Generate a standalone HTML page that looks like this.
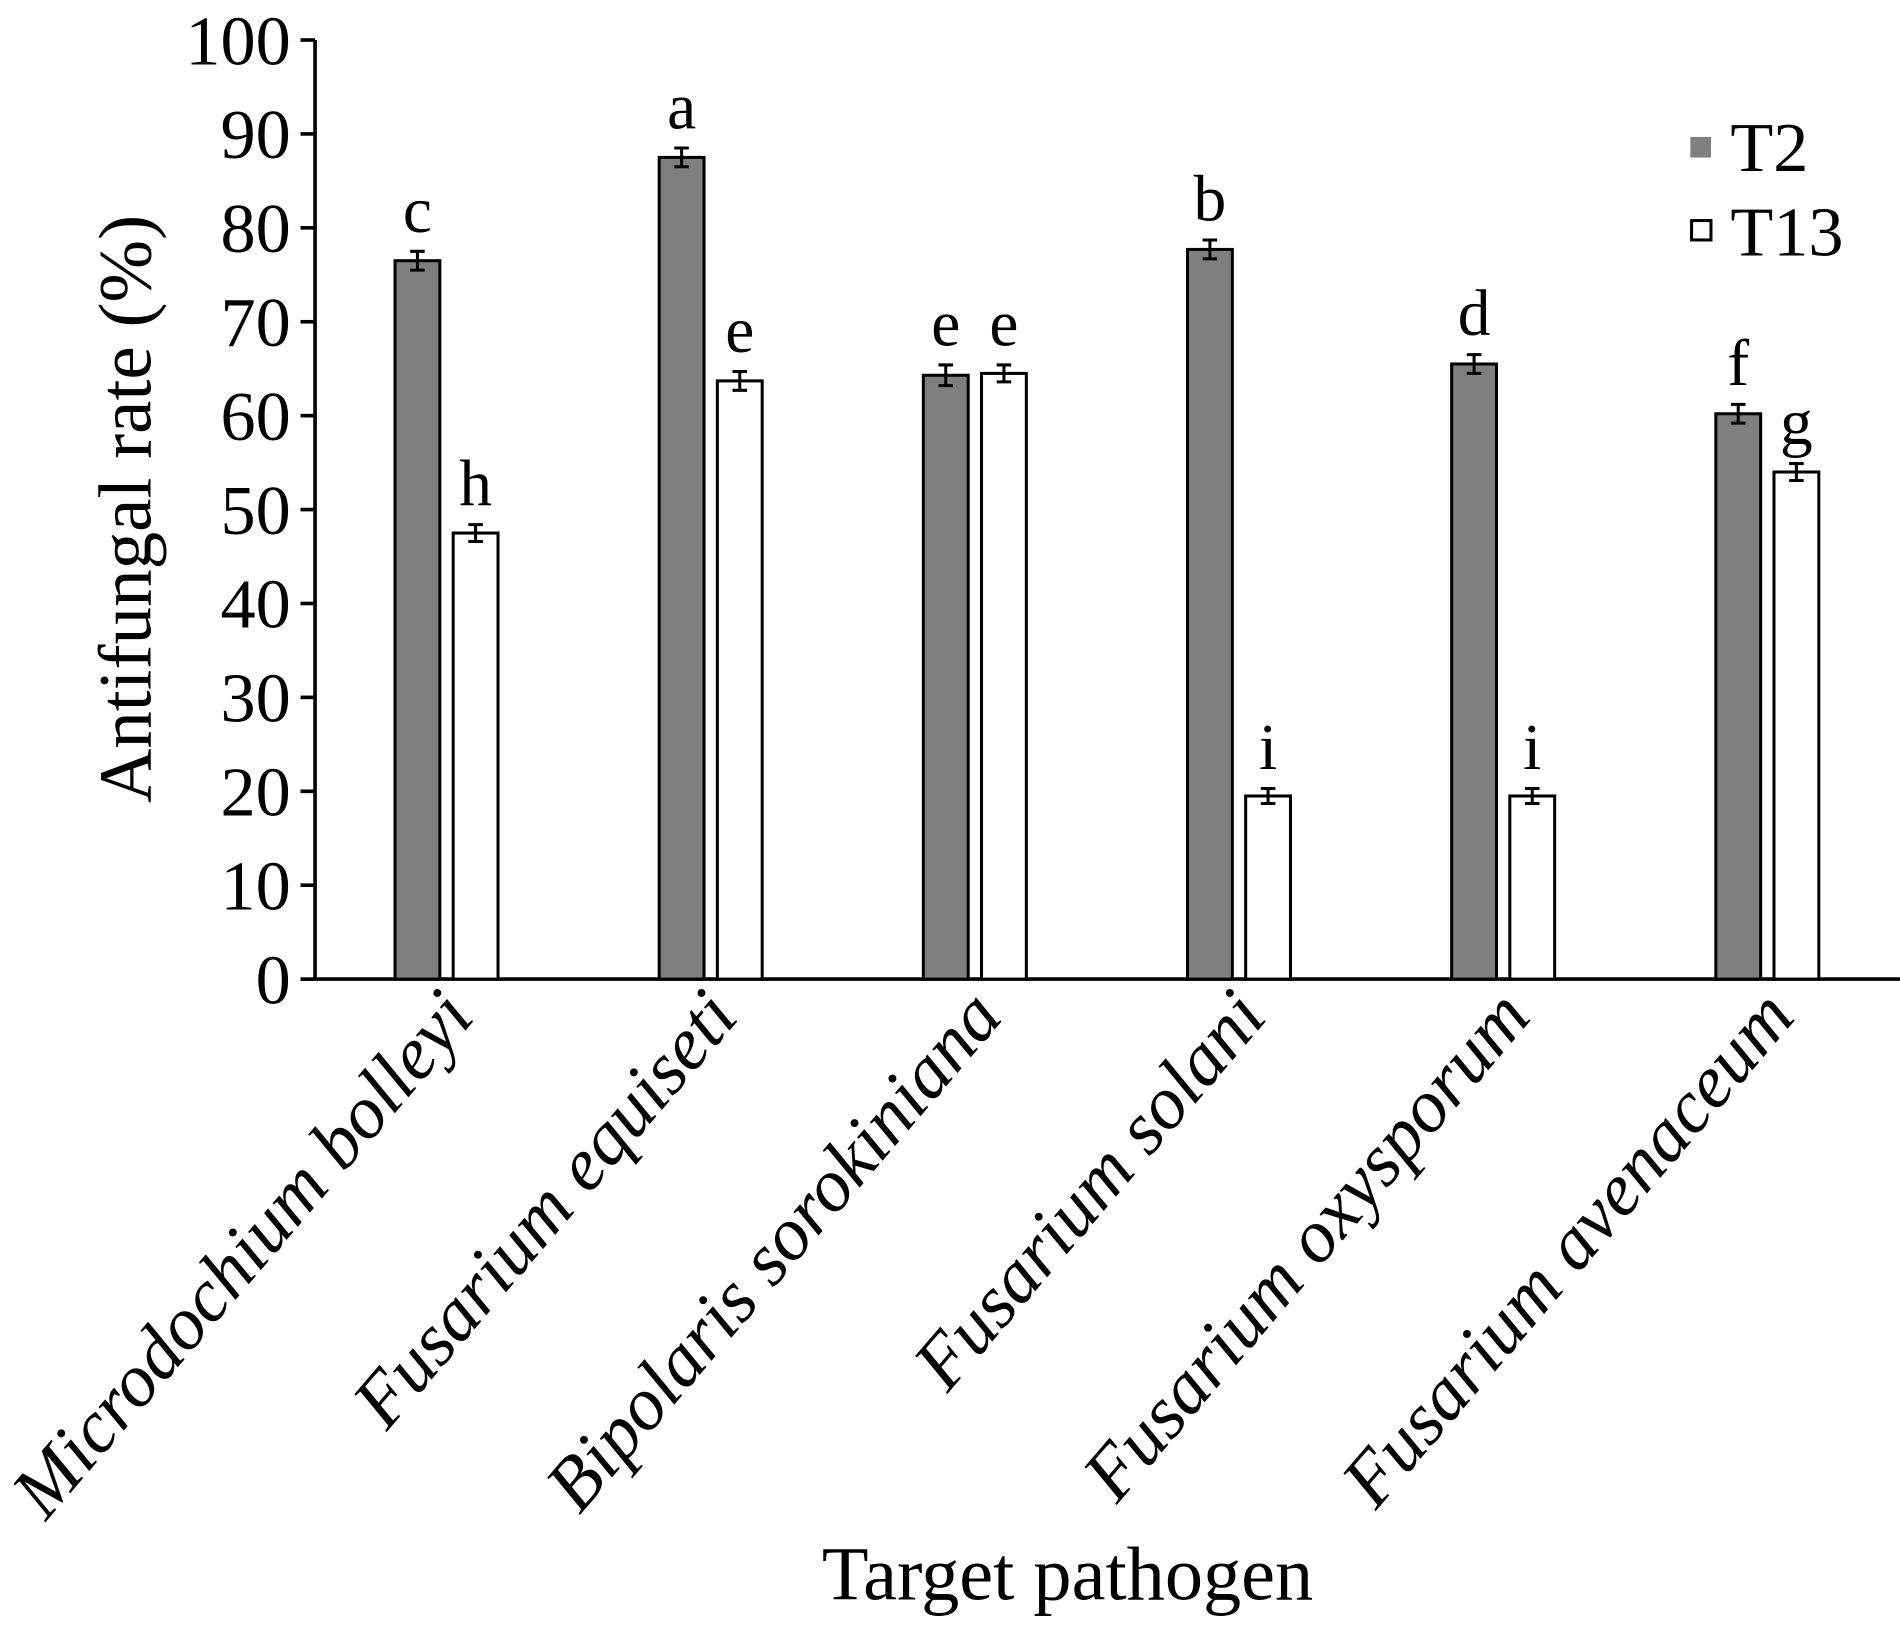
<!DOCTYPE html>
<html><head><meta charset="utf-8"><style>
html,body{margin:0;padding:0;background:#fff;}
svg{display:block;font-family:"Liberation Serif",serif;}
</style></head><body>
<svg id="chart" width="1900" height="1625" viewBox="0 0 1568 1341" xmlns="http://www.w3.org/2000/svg">
<g id="plot"></g>
</svg>
<script>
const categories = ["Microdochium bolleyi","Fusarium equiseti","Bipolaris sorokiniana","Fusarium solani","Fusarium oxysporum","Fusarium avenaceum"];
const t2Values = [76.5, 87.5, 64.3, 77.7, 65.5, 60.2];
const t13Values = [47.5, 63.7, 64.5, 19.5, 19.5, 54.0];
const t2Err = [1.0, 1.0, 1.1, 1.0, 1.0, 1.0];
const t13Err = [0.9, 1.0, 0.9, 0.8, 0.8, 0.9];
const t2Letters = ["c","a","e","b","d","f"];
const t13Letters = ["h","e","e","i","i","g"];
const yTicks = [0,10,20,30,40,50,60,70,80,90,100];

const NS="http://www.w3.org/2000/svg";
const plot=document.getElementById('plot');
const x0=260, x1=1568, yBase=808, yTop=33;
const y=v=>yBase-(v/100)*(yBase-yTop);
const band=(x1-x0)/categories.length;
const cx=i=>x0+band*(i+0.5);
function mk(tag,attrs,parent){const e=document.createElementNS(NS,tag);for(const k in attrs)e.setAttribute(k,attrs[k]);(parent||plot).appendChild(e);return e;}

let ax=mk('line',{x1:x0,y1:yTop,x2:x0,y2:yBase,stroke:'#000','stroke-width':3});


let bx=mk('line',{x1:x0,y1:yBase,x2:x1,y2:yBase,stroke:'#000','stroke-width':3});


yTicks.forEach(t=>{
  let tk=mk('line',{x1:x0-12,y1:y(t),x2:x0,y2:y(t),stroke:'#000','stroke-width':3});
  
  
  let tl=mk('text',{x:x0-20,y:y(t)+20,'text-anchor':'end','font-size':58});
  tl.textContent=t;
  
  
});

const bw=37;
function bar(i,v,e,letter,isT2){
  const left=isT2?cx(i)-43:cx(i)+5;
  let r=mk('rect',{x:left,y:y(v),width:bw,height:yBase-y(v),fill:isT2?'#7f7f7f':'#fff',stroke:'#000','stroke-width':2.5});
  
  
  const m=left+bw/2;
  let eb=mk('path',{d:`M${m},${y(v+e)}V${y(v-e)}M${m-6},${y(v+e)}H${m+6}M${m-6},${y(v-e)}H${m+6}`,stroke:'#000','stroke-width':2.5,fill:'none'});
  
  
  let lt=mk('text',{x:m,y:y(v+e)-16,'text-anchor':'middle','font-size':54});
  lt.textContent=letter;
  
  
}
categories.forEach((c,i)=>{
  bar(i,t2Values[i],t2Err[i],t2Letters[i],true);
  bar(i,t13Values[i],t13Err[i],t13Letters[i],false);
  let tx=mk('text',{transform:`translate(${cx(i)+24},${yBase+32}) rotate(-49.5)`,'text-anchor':'end','font-size':62,'font-style':'italic'});
  tx.textContent=c;
  
  
});

let l1=mk('rect',{x:1395,y:113,width:17,height:17,fill:'#7f7f7f'});


let lt1=mk('text',{x:1428,y:141,'font-size':58});lt1.textContent='T2';


let l2=mk('rect',{x:1396,y:182,width:16,height:16,fill:'#fff',stroke:'#000','stroke-width':2.5});


let lt2=mk('text',{x:1428,y:211,'font-size':58});lt2.textContent='T13';



let yt=mk('text',{transform:'translate(124,420) rotate(-90)','text-anchor':'middle','font-size':62});
yt.textContent='Antifungal rate (%)';


let xt=mk('text',{x:881,y:1320,'text-anchor':'middle','font-size':63});
xt.textContent='Target pathogen';


</script>
</body></html>
